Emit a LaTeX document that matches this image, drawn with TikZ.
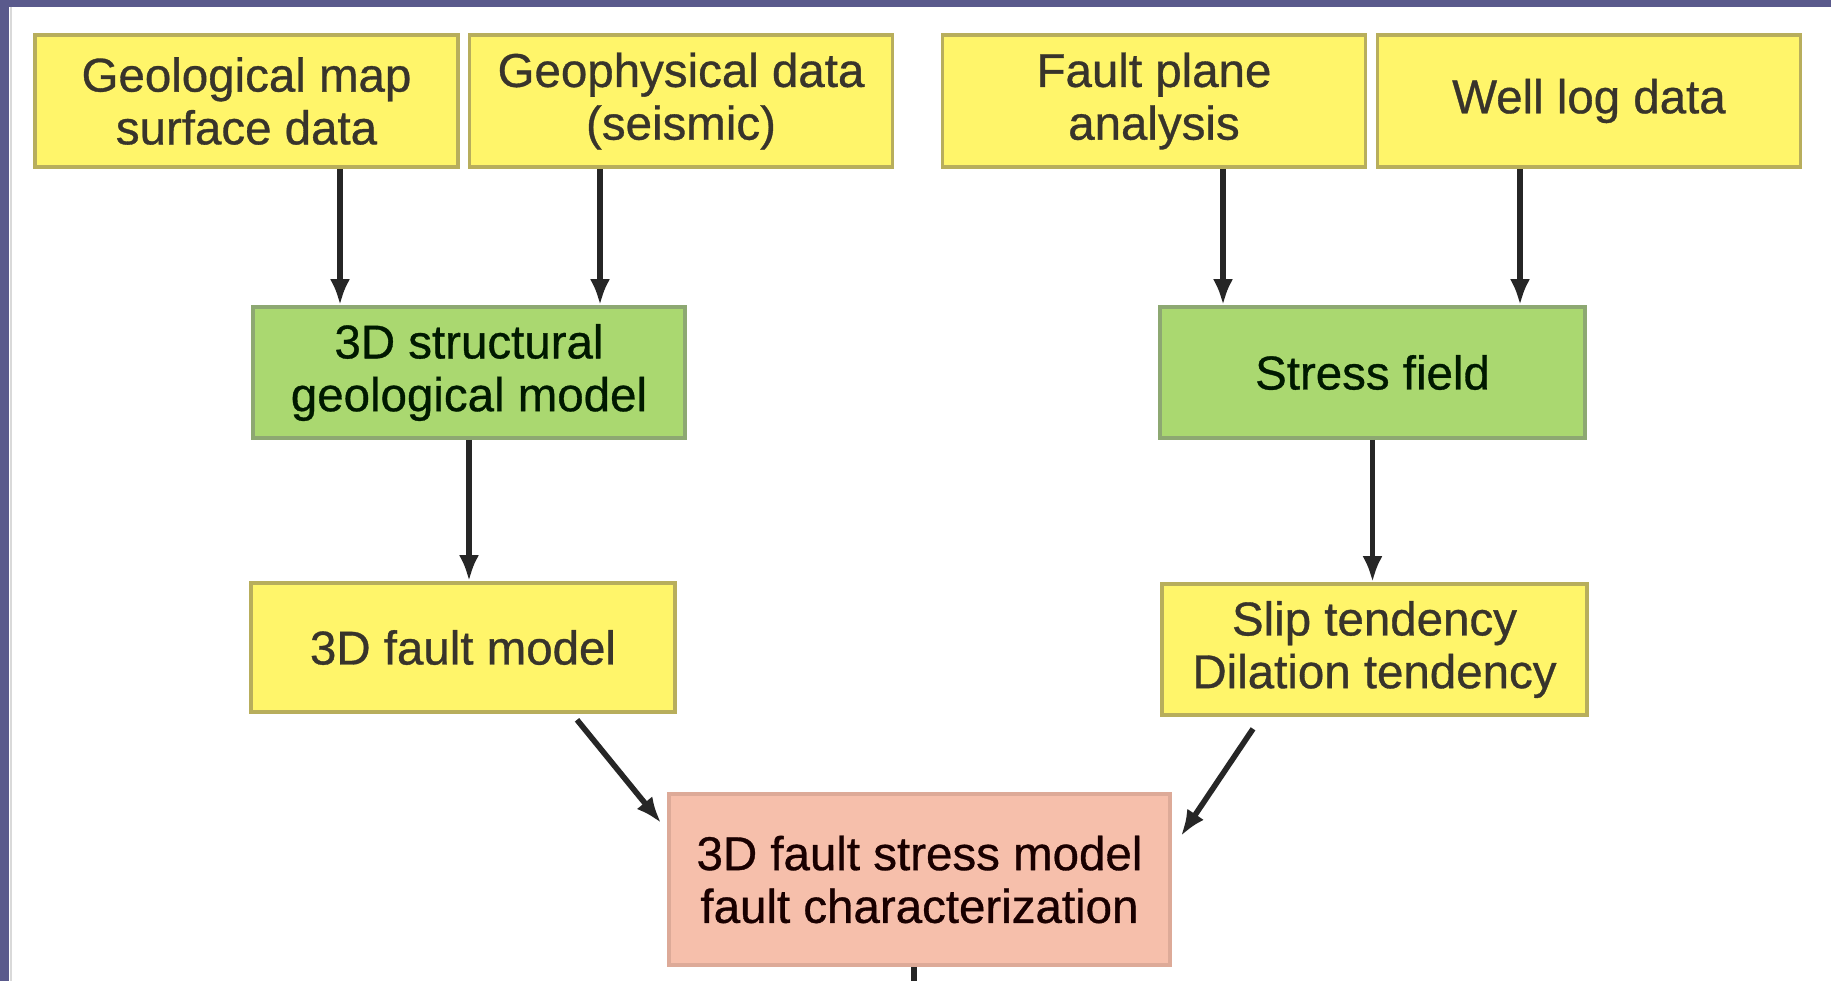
\documentclass[tikz,border=0pt]{standalone}
\usepackage{fontspec}
\setmainfont{Liberation Sans}
\newfontfamily\boxfont{Liberation Sans}[FakeBold=0.7]
\usetikzlibrary{arrows.meta}
\definecolor{frameblue}{HTML}{5A5A8C}
\definecolor{inyellow}{HTML}{FFF56A}
\definecolor{inyellowline}{HTML}{B8AE5C}
\definecolor{midgreen}{HTML}{AAD870}
\definecolor{midgreenline}{HTML}{8DA872}
\definecolor{outpink}{HTML}{F6BFAB}
\definecolor{outpinkline}{HTML}{DDAA98}
\tikzset{
  box/.style={draw,line width=1pt,align=center,inner sep=0pt,
    font=\boxfont\fontsize{13.5}{15}\selectfont},
  inbox/.style={box,fill=inyellow,draw=inyellowline,text=black!80!olive},
  midbox/.style={box,fill=midgreen,draw=midgreenline,text=black!75!green!40!black},
  outbox/.style={box,fill=outpink,draw=outpinkline,text=black!75!red!40!black},
  arr/.style={line width=1.6pt,black!85,-{Latex[length=0.26cm,width=0.2cm]}}
}
\begin{document}
\begin{tikzpicture}[x=0.01cm,y=-0.01cm]
\useasboundingbox (0,0) rectangle (1831,981);
\fill[white] (0,0) rectangle (1831,981);
\fill[frameblue] (0,0) rectangle (1831,7);
\fill[frameblue] (0,0) rectangle (9,981);
\draw[black!15,line width=0.6pt] (11,7) -- (11,981);
\foreach \n/\cx/\lab in {
  geomap/246.5/{Geological map\\surface data},
  geophys/681/{Geophysical data\\(seismic)},
  faultplane/1154/{Fault plane\\analysis},
  welllog/1589/{Well log data}}
  \node[inbox,minimum width=4.23cm,minimum height=1.32cm] (\n) at (\cx,101) {\lab};
\node[midbox,minimum width=4.32cm,minimum height=1.31cm] (structural) at (469,372.5) {3D structural\\geological model};
\node[midbox,minimum width=4.25cm,minimum height=1.31cm] (stress) at (1372.5,372.5) {Stress field};
\node[inbox,minimum width=4.24cm,minimum height=1.29cm] (faultmodel) at (463,647.5) {3D fault model};
\node[inbox,minimum width=4.25cm,minimum height=1.31cm] (slip) at (1374.5,649.5) {Slip tendency\\Dilation tendency};
\node[outbox,minimum width=5.01cm,minimum height=1.71cm] (stressmodel) at (919.5,879.5) {3D fault stress model\\fault characterization};
\coordinate (out) at (914,981);
\foreach \a/\b/\x in {geomap/structural/340,geophys/structural/600,
  faultplane/stress/1223,welllog/stress/1520}
  \draw[arr] (\a.south -| \x,0) -- (\b.north -| \x,0);
\draw[arr] (structural.south) -- (faultmodel.north -| structural.south);
\draw[arr] (stress.south) -- (slip.north -| stress.south);
\draw[arr] ([shift={(0,6)}]faultmodel.south -| 577,0) -- ([xshift=-0.06cm]stressmodel.west |- 0,823);
\draw[arr] ([shift={(0,12)}]slip.south -| 1253,0) -- ([xshift=0.09cm]stressmodel.east |- 0,836);
\draw[line width=1.6pt,black!85] (stressmodel.south -| out) -- (out);
\end{tikzpicture}
\end{document}
